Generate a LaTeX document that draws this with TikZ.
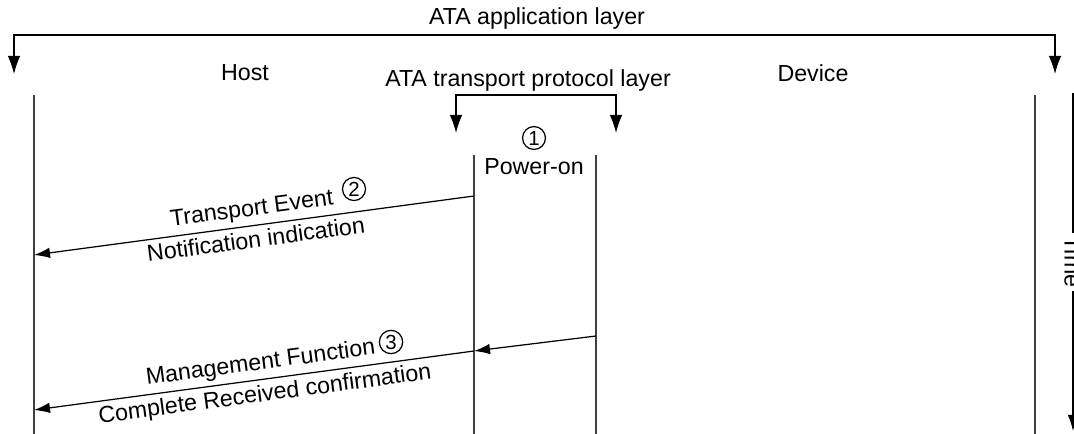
\documentclass[tikz,border=0pt]{standalone}
\usepackage{fontspec}
\setmainfont{Liberation Sans}
\usetikzlibrary{arrows.meta}

\begin{document}
\begin{tikzpicture}[x=0.01cm,y=-0.01cm,
		font=\fontsize{6.6}{8}\selectfont,
		lifeline/.style={draw=black!75,line width=0.6pt},
		msg/.style={-{Latex[length=1.6mm,width=1.05mm]},line width=0.35pt},
		bracket/.style={{Latex[length=1.8mm,width=1.25mm]}-{Latex[length=1.8mm,width=1.25mm]},line width=0.35pt},
		num/.style={circle,draw,line width=0.35pt,inner sep=0.5pt,font=\fontsize{5.8}{6}\selectfont},
		lbl/.style={sloped,inner sep=1.3pt}]
		\clip (0,0) rectangle (1074,434);
		% headings
		\node (app) at (537,19) {ATA application layer};
		\node (host) at (245,73) {Host};
		\node (dev) at (813,73) {Device};
		\node (tpl) at (528,81) {ATA transport protocol layer};
		% layer brackets
		\coordinate (appL) at (14,74);
		\coordinate (appM) at (537,35);
		\coordinate (appR) at (1055,74);
		\draw[bracket] (appL) |- (appM) -| (appR);
		\coordinate (tplL) at (456,133);
		\coordinate (tplM) at (536,95);
		\coordinate (tplR) at (616,133);
		\draw[bracket] (tplL) |- (tplM) -| (tplR);
		% lifelines
		\coordinate (hostT) at (34,95);
		\coordinate (hostB) at (34,434);
		\coordinate (devT) at (1035,95);
		\coordinate (devB) at (1035,434);
		\coordinate (tlT) at (474,155);
		\coordinate (tlB) at (474,434);
		\coordinate (trT) at (596,155);
		\coordinate (trB) at (596,434);
		\draw[lifeline] (hostT) -- (hostB);
		\draw[lifeline] (devT) -- (devB);
		\draw[lifeline] (tlT) -- (tlB);
		\draw[lifeline] (trT) -- (trB);
		% step 1
		\node[num] (n1) at (534,138) {1};
		\node (pwr) at (534,167) {Power-on};
		% step 2
		\coordinate (tl2) at (474,196);
		\coordinate (h2) at (34,255);
		\draw[msg] (tl2) -- (h2)
			node[lbl,above,midway] {Transport Event}
			node[lbl,below,midway] {Notification indication};
		\node[num] (n2) at (354,189) {2};
		% step 3
		\coordinate (tr3) at (596,336);
		\coordinate (tl3) at (474,351);
		\coordinate (h3) at (34,410);
		\draw[msg] (tr3) -- (tl3);
		\draw[msg] (tl3) -- (h3)
			node[lbl,above,pos=0.48] {Management Function}
			node[lbl,below,pos=0.48] {Complete Received confirmation};
		\node[num] (n3) at (391,342) {3};
		% time axis
		\coordinate (timeT) at (1073,93);
		\coordinate (timeB) at (1073,431);
		\draw[msg] (timeT) -- (timeB)
			node[midway,fill=white,rotate=-90,inner sep=1pt] {Time};
	\end{tikzpicture}
\end{document}
